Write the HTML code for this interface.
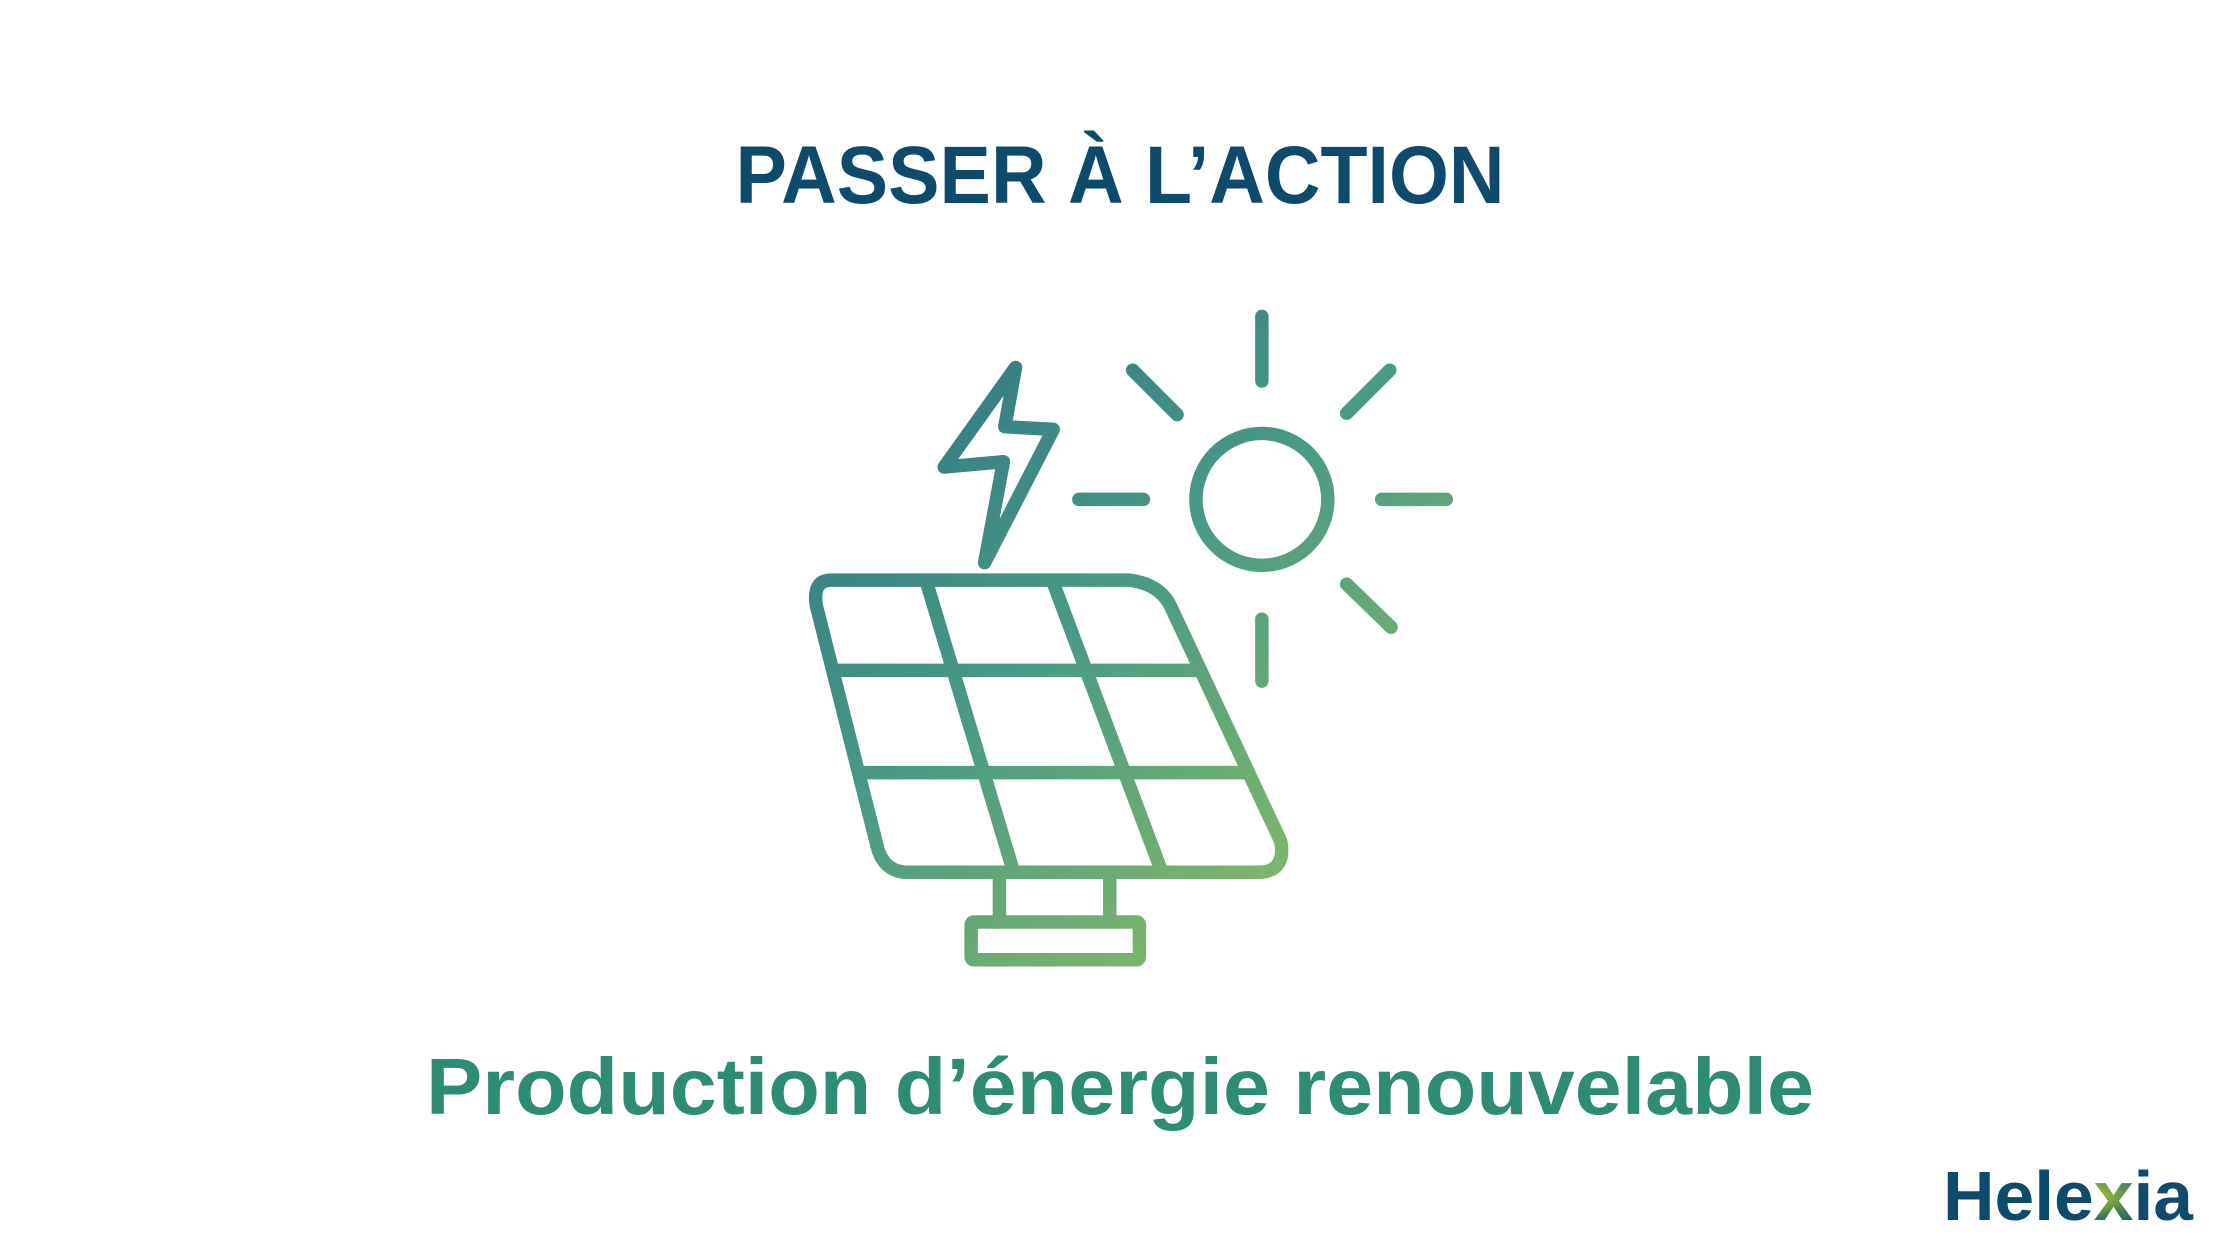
<!DOCTYPE html>
<html><head><meta charset="utf-8"><style>
html,body{margin:0;padding:0;background:#fff;width:2240px;height:1260px;overflow:hidden}
</style></head><body>
<svg width="2240" height="1260" viewBox="0 0 2240 1260" xmlns="http://www.w3.org/2000/svg">
<defs>
<linearGradient id="g" x1="800" y1="300" x2="1200" y2="790" gradientUnits="userSpaceOnUse">
<stop offset="0" stop-color="#2b6e80"/><stop offset="0.5" stop-color="#4a9a86"/><stop offset="1" stop-color="#90c060"/>
</linearGradient>
<radialGradient id="xg" cx="0.5" cy="0.5" r="0.5"><stop offset="0" stop-color="#d8e820"/><stop offset="0.6" stop-color="#3b7a5a"/><stop offset="1" stop-color="#0e4a6b"/></radialGradient>
</defs>
<text x="1120" y="203" text-anchor="middle" font-family="Liberation Sans, sans-serif" font-weight="bold" font-size="82" fill="#0e4a6b" textLength="769" lengthAdjust="spacingAndGlyphs">PASSER À L’ACTION</text>
<g transform="translate(780,280) scale(1.346) translate(-780,-280)" fill="none" stroke="url(#g)" stroke-width="10" stroke-linecap="round" stroke-linejoin="round">
<path d="M818,503 L1040,503 Q1062,506 1070,522 L1152,697 Q1156,718 1138,720 L872,720 Q856,718 852,700 L807,522 Q804,503 818,503 Z"/>
<line x1="821" y1="570" x2="1092" y2="570"/>
<line x1="840" y1="646" x2="1127" y2="646"/>
<line x1="889" y1="505" x2="953" y2="718"/>
<line x1="983" y1="505" x2="1063" y2="718"/>
<line x1="943" y1="722" x2="943" y2="757"/>
<line x1="1025" y1="722" x2="1025" y2="757"/>
<rect x="922" y="757" width="125" height="28" rx="2"/>
<path d="M955,345 L947,389 L983,391 L932,490 L946,415 L902,419 Z"/>
<circle cx="1138" cy="443" r="49"/>
<line x1="1138" y1="307" x2="1138" y2="355"/>
<line x1="1138" y1="532" x2="1138" y2="578"/>
<line x1="1002" y1="443" x2="1050" y2="443"/>
<line x1="1227" y1="443" x2="1275" y2="443"/>
<line x1="1042" y1="347" x2="1075" y2="380"/>
<line x1="1233" y1="347" x2="1201" y2="379"/>
<line x1="1201" y1="506" x2="1234" y2="538"/>
</g>
<text x="1120" y="1114" text-anchor="middle" font-family="Liberation Sans, sans-serif" font-weight="bold" font-size="80" fill="#2e8b74" textLength="1388" lengthAdjust="spacingAndGlyphs">Production d’énergie renouvelable</text>
<text x="1943" y="1220" font-family="Liberation Sans, sans-serif" font-weight="bold" font-size="70" fill="#0e4a6b" textLength="250" lengthAdjust="spacingAndGlyphs">Hele<tspan fill="url(#xg)">x</tspan>ia</text>
</svg>
</body></html>
